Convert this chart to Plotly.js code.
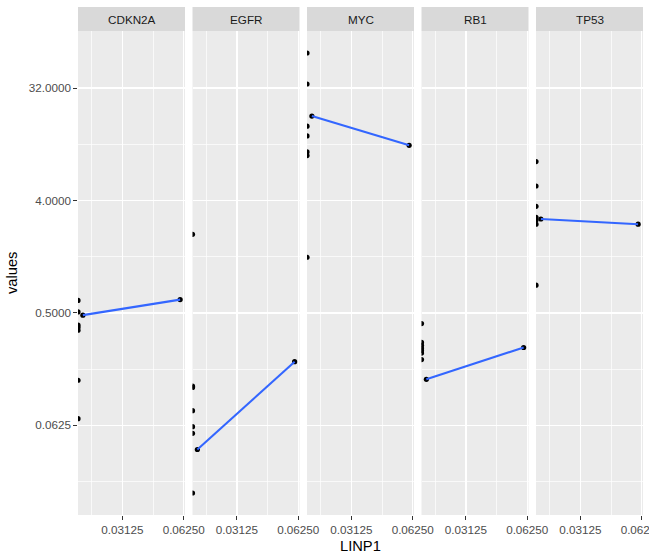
<!DOCTYPE html>
<html>
<head>
<meta charset="utf-8">
<script src="https://cdn.plot.ly/plotly-3.0.1.min.js"></script>
<style>html,body{margin:0;padding:0;background:#fff;}#chart{width:649px;height:558px;}</style>
</head>
<body>
<div id="chart"></div>
<script>
// ---- data ----
const categories = ['CDKN2A', 'EGFR', 'MYC', 'RB1', 'TP53'];

const cdkn2a_linp1 = [0, 0, 0, 0, 0, 0, 0, 0.02, 0.06];
const cdkn2a_values = [0.630, 0.510, 0.399, 0.382, 0.363, 0.144, 0.0707, 0.48, 0.64];

const egfr_linp1 = [0, 0, 0, 0, 0, 0, 0, 0.02, 0.06];
const egfr_values = [2.14, 0.129, 0.126, 0.082, 0.061, 0.054, 0.0179, 0.040, 0.203];

const myc_linp1 = [0, 0, 0, 0, 0, 0, 0, 0.02, 0.06];
const myc_values = [61.2, 34.5, 15.8, 13.2, 9.83, 9.18, 1.40, 19.05, 11.1];

const rb1_linp1 = [0, 0, 0, 0, 0, 0, 0, 0.02, 0.06];
const rb1_values = [0.411, 0.29, 0.275, 0.262, 0.25, 0.238, 0.211, 0.1465, 0.264];

const tp53_linp1 = [0, 0, 0, 0, 0, 0, 0, 0.02, 0.06];
const tp53_values = [8.21, 5.23, 3.59, 2.93, 2.79, 2.58, 0.836, 2.84, 2.58];

const yTickVals = [0.0625, 0.5, 4, 32];
const yTickText = ['0.0625', '0.5000', '4.0000', '32.0000'];
const xTickVals = [0.03125, 0.0625];
const xTickText = ['0.03125', '0.06250'];

const xLabel = 'LINP1';
const yLabel = 'values';

// ---- build ----
const series = [
  [cdkn2a_linp1, cdkn2a_values],
  [egfr_linp1, egfr_values],
  [myc_linp1, myc_values],
  [rb1_linp1, rb1_values],
  [tp53_linp1, tp53_values]
];

const L = Math.log10;
// shared x range: finite data range expanded 5% in log space (ggplot style)
let xmin = Infinity, xmax = -Infinity, ymin = Infinity, ymax = -Infinity;
series.forEach(([xs, ys]) => {
  xs.forEach(v => { if (v > 0) { xmin = Math.min(xmin, L(v)); xmax = Math.max(xmax, L(v)); } });
  ys.forEach(v => { ymin = Math.min(ymin, L(v)); ymax = Math.max(ymax, L(v)); });
});
const xr = [xmin - 0.05 * (xmax - xmin), xmax + 0.05 * (xmax - xmin)];
const yr = [ymin - 0.05 * (ymax - ymin), ymax + 0.05 * (ymax - ymin)];
const xEdge = Math.pow(10, xr[0]); // log(0) = -Inf is drawn at the panel edge

const W = 649, H = 558;
const mL = 78, mR = 6, mT = 31, mB = 43;
const plotW = W - mL - mR, plotH = H - mT - mB;
const panelW = 107, pitch = 114.5;

const traces = [];
const layout = {
  width: W, height: H,
  margin: {l: mL, r: mR, t: mT, b: mB, pad: 0},
  paper_bgcolor: '#ffffff',
  plot_bgcolor: '#EBEBEB',
  showlegend: false,
  font: {family: 'Liberation Sans, Arial, sans-serif', color: '#4D4D4D', size: 11.7},
  shapes: [],
  annotations: []
};

const xMinor = [Math.pow(2, -5.5), Math.pow(2, -4.5)];
const yMinor = [Math.pow(2, -5.5), Math.pow(2, -2.5), Math.pow(2, 0.5), Math.pow(2, 3.5), Math.pow(2, 6.5)];

categories.forEach((cat, i) => {
  const [xs, ys] = series[i];
  const suffix = i === 0 ? '' : String(i + 1);
  const xa = 'x' + suffix, ya = 'y' + suffix;

  const px = xs.map(v => v > 0 ? v : xEdge);
  traces.push({
    type: 'scatter', mode: 'markers', x: px, y: ys, xaxis: xa, yaxis: ya,
    marker: {color: '#000000', size: 5.2}, cliponaxis: true, hoverinfo: 'skip'
  });

  // lm fit in log-log space on finite points
  const fx = [], fy = [];
  xs.forEach((v, j) => { if (v > 0) { fx.push(L(v)); fy.push(L(ys[j])); } });
  const n = fx.length;
  const mx = fx.reduce((a, b) => a + b, 0) / n, my = fy.reduce((a, b) => a + b, 0) / n;
  let sxy = 0, sxx = 0;
  fx.forEach((v, j) => { sxy += (v - mx) * (fy[j] - my); sxx += (v - mx) * (v - mx); });
  const slope = sxy / sxx, icpt = my - slope * mx;
  const lx0 = Math.min(...fx), lx1 = Math.max(...fx);
  const lineX = [], lineY = [];
  for (let k = 0; k <= 20; k++) {
    const t = lx0 + (lx1 - lx0) * k / 20;
    lineX.push(Math.pow(10, t));
    lineY.push(Math.pow(10, icpt + slope * t));
  }
  traces.push({
    type: 'scatter', mode: 'lines', x: lineX, y: lineY, xaxis: xa, yaxis: ya,
    line: {color: '#3366FF', width: 2.1}, hoverinfo: 'skip'
  });

  const left = i * pitch, right = left + panelW;
  const dom = [left / plotW, right / plotW];

  layout['xaxis' + suffix] = {
    type: 'log', range: xr, domain: dom, anchor: ya,
    tickmode: 'array', tickvals: xTickVals, ticktext: xTickText,
    ticks: 'outside', ticklen: 3.7, tickwidth: 1.07, tickcolor: '#333333',
    ticklabeloverflow: 'allow',
    tickfont: {color: '#4D4D4D', size: 11.7, family: 'Liberation Sans, Arial, sans-serif'},
    showgrid: true, gridcolor: '#FFFFFF', gridwidth: 1.4,
    minor: {tickmode: 'array', tickvals: xMinor, showgrid: true, gridcolor: '#FFFFFF', gridwidth: 0.7, ticks: ''},
    zeroline: false, showline: false, automargin: false, fixedrange: true
  };
  layout['yaxis' + suffix] = {
    type: 'log', range: yr, domain: [0, 1], anchor: xa,
    tickmode: 'array', tickvals: yTickVals, ticktext: yTickText,
    showticklabels: i === 0, ticks: i === 0 ? 'outside' : '',
    ticklen: 3.7, tickwidth: 1.07, tickcolor: '#333333',
    tickfont: {color: '#4D4D4D', size: 11.7, family: 'Liberation Sans, Arial, sans-serif'},
    showgrid: true, gridcolor: '#FFFFFF', gridwidth: 1.4,
    minor: {tickmode: 'array', tickvals: yMinor, showgrid: true, gridcolor: '#FFFFFF', gridwidth: 0.7, ticks: ''},
    zeroline: false, showline: false, automargin: false, fixedrange: true
  };
  if (i > 0) layout['yaxis' + suffix].matches = 'y';

  // facet strip
  layout.shapes.push({
    type: 'rect', xref: 'paper', yref: 'paper',
    x0: dom[0], x1: dom[1], y0: 1, y1: 1 + 24 / plotH,
    fillcolor: '#D9D9D9', line: {width: 0}, layer: 'above'
  });
  layout.annotations.push({
    text: cat, xref: 'paper', yref: 'paper', x: (dom[0] + dom[1]) / 2, y: 1 + 12 / plotH,
    xanchor: 'center', yanchor: 'middle', showarrow: false,
    font: {color: '#1A1A1A', size: 11.7, family: 'Liberation Sans, Arial, sans-serif'}
  });
});

layout.annotations.push({
  text: xLabel, xref: 'paper', yref: 'paper', x: 0.5, y: -31 / plotH,
  xanchor: 'center', yanchor: 'middle', showarrow: false,
  font: {color: '#000000', size: 14.7, family: 'Liberation Sans, Arial, sans-serif'}
});
layout.annotations.push({
  text: yLabel, xref: 'paper', yref: 'paper', x: (12 - mL) / plotW, y: 0.5,
  xanchor: 'center', yanchor: 'middle', textangle: -90, showarrow: false,
  font: {color: '#000000', size: 14.7, family: 'Liberation Sans, Arial, sans-serif'}
});

Plotly.newPlot('chart', traces, layout, {displayModeBar: false, staticPlot: true});
</script>
</body>
</html>
